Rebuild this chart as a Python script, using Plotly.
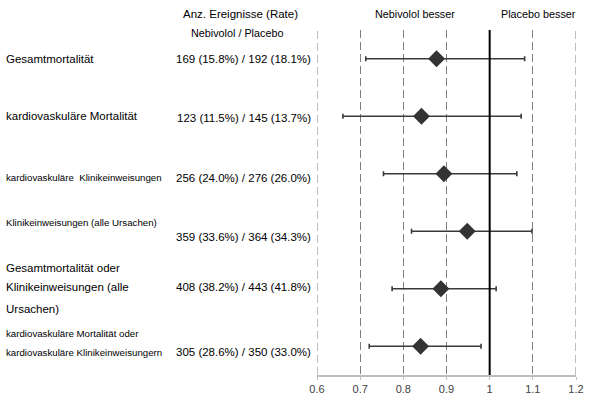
import plotly.graph_objects as go

# ---------------- data ----------------
outcome_lines = [
    ["Gesamtmortalität"],
    ["kardiovaskuläre Mortalität"],
    ["kardiovaskuläre  Klinikeinweisungen"],
    ["Klinikeinweisungen (alle Ursachen)"],
    ["Gesamtmortalität oder", "Klinikeinweisungen (alle", "Ursachen)"],
    ["kardiovaskuläre Mortalität oder", "kardiovaskuläre Klinikeinweisungern"],
]
events_text = [
    "169 (15.8%) / 192 (18.1%)",
    "123 (11.5%) / 145 (13.7%)",
    "256 (24.0%) / 276 (26.0%)",
    "359 (33.6%) / 364 (34.3%)",
    "408 (38.2%) / 443 (41.8%)",
    "305 (28.6%) / 350 (33.0%)",
]
hazard_ratio = [0.877, 0.842, 0.894, 0.948, 0.887, 0.840]
ci_lower = [0.713, 0.660, 0.754, 0.819, 0.774, 0.721]
ci_upper = [1.081, 1.073, 1.063, 1.098, 1.015, 0.980]
x_ticks = [0.6, 0.7, 0.8, 0.9, 1.0, 1.1, 1.2]
x_tick_labels = ["0.6", "0.7", "0.8", "0.9", "1", "1.1", "1.2"]
x_min, x_max = 0.6, 1.2
ref_value = 1.0

# ---------------- layout helpers ----------------
W, H = 592, 397
L, R, T, B = 317, 16, 30, 22
PW = W - L - R
PH = H - T - B


def px_x(p):
    return (p - L) / PW


def px_y(p):
    return (H - B - p) / PH


rows = list(range(1, len(hazard_ratio) + 1))
err_plus = [u - m for u, m in zip(ci_upper, hazard_ratio)]
err_minus = [m - l for m, l in zip(hazard_ratio, ci_lower)]

fig = go.Figure()
fig.add_trace(go.Scatter(
    x=hazard_ratio, y=rows, mode="markers",
    marker=dict(symbol="diamond", size=13, color="#333333"),
    error_x=dict(type="data", symmetric=False, array=err_plus, arrayminus=err_minus,
                 color="#3a3a3a", thickness=1.6, width=2.5),
    showlegend=False, hoverinfo="skip",
))

# dashed lines at the range edges (plotly skips edge gridlines)
for xv in (x_min, x_max):
    fig.add_shape(type="line", xref="x", yref="paper", x0=xv, x1=xv, y0=0, y1=1,
                  line=dict(color="#7f7f7f", width=1, dash="8px,4px"), layer="below")

# reference line at 1
fig.add_shape(type="line", xref="x", yref="paper", x0=ref_value, x1=ref_value, y0=0, y1=1,
              line=dict(color="black", width=2), layer="above")

big = 11.5
small = 9.7
label_sizes = [big, big, small, small, big, small]
label_offsets = [[0], [0], [4], [-9], [-21, -2, 20], [-13, 6]]
value_offsets = [0, 2, 4, 6, -2, 6]
txt_color = "#000000"
fam = "Liberation Sans, Arial, sans-serif"

ann = []
for i, lines in enumerate(outcome_lines):
    for line, off in zip(lines, label_offsets[i]):
        ann.append(dict(text=line, xref="paper", yref="y", x=px_x(4), y=rows[i],
                        yshift=-off, xanchor="left", yanchor="middle", showarrow=False,
                        font=dict(size=label_sizes[i], color=txt_color, family=fam)))
    ann.append(dict(text=events_text[i], xref="paper", yref="y", x=px_x(313), y=rows[i],
                    yshift=-value_offsets[i], xanchor="right", yanchor="middle",
                    showarrow=False, font=dict(size=big, color=txt_color, family=fam)))

headers = [
    ("Anz. Ereignisse (Rate)", 240, 14, big),
    ("Nebivolol / Placebo", 237, 33, 10.8),
    ("Nebivolol besser", 415, 14, 10.8),
    ("Placebo besser", 538, 14, 10.8),
]
for t, x, y, s in headers:
    ann.append(dict(text=t, xref="paper", yref="paper", x=px_x(x), y=px_y(y),
                    xanchor="center", yanchor="middle", showarrow=False,
                    font=dict(size=s, color=txt_color, family=fam)))

fig.update_layout(
    width=W, height=H,
    margin=dict(l=L, r=R, t=T, b=B, autoexpand=False),
    paper_bgcolor="white", plot_bgcolor="white",
    annotations=ann,
    xaxis=dict(range=[x_min, x_max], tickvals=x_ticks, ticktext=x_tick_labels,
               showgrid=True, gridcolor="#7f7f7f", gridwidth=1, griddash="8px,4px",
               zeroline=False, showline=True, linecolor="#bfbfbf", linewidth=2,
               ticks="outside", ticklen=3, tickcolor="#bfbfbf", ticklabelstandoff=0,
               automargin=False,
               tickfont=dict(size=11, color="#404040", family=fam)),
    yaxis=dict(range=[6.5, 0.5], visible=False, showgrid=False, zeroline=False),
)

fig.write_html("out.html", config={"displayModeBar": False},
               post_script="document.body.style.margin='0';document.body.style.overflow='hidden';")
